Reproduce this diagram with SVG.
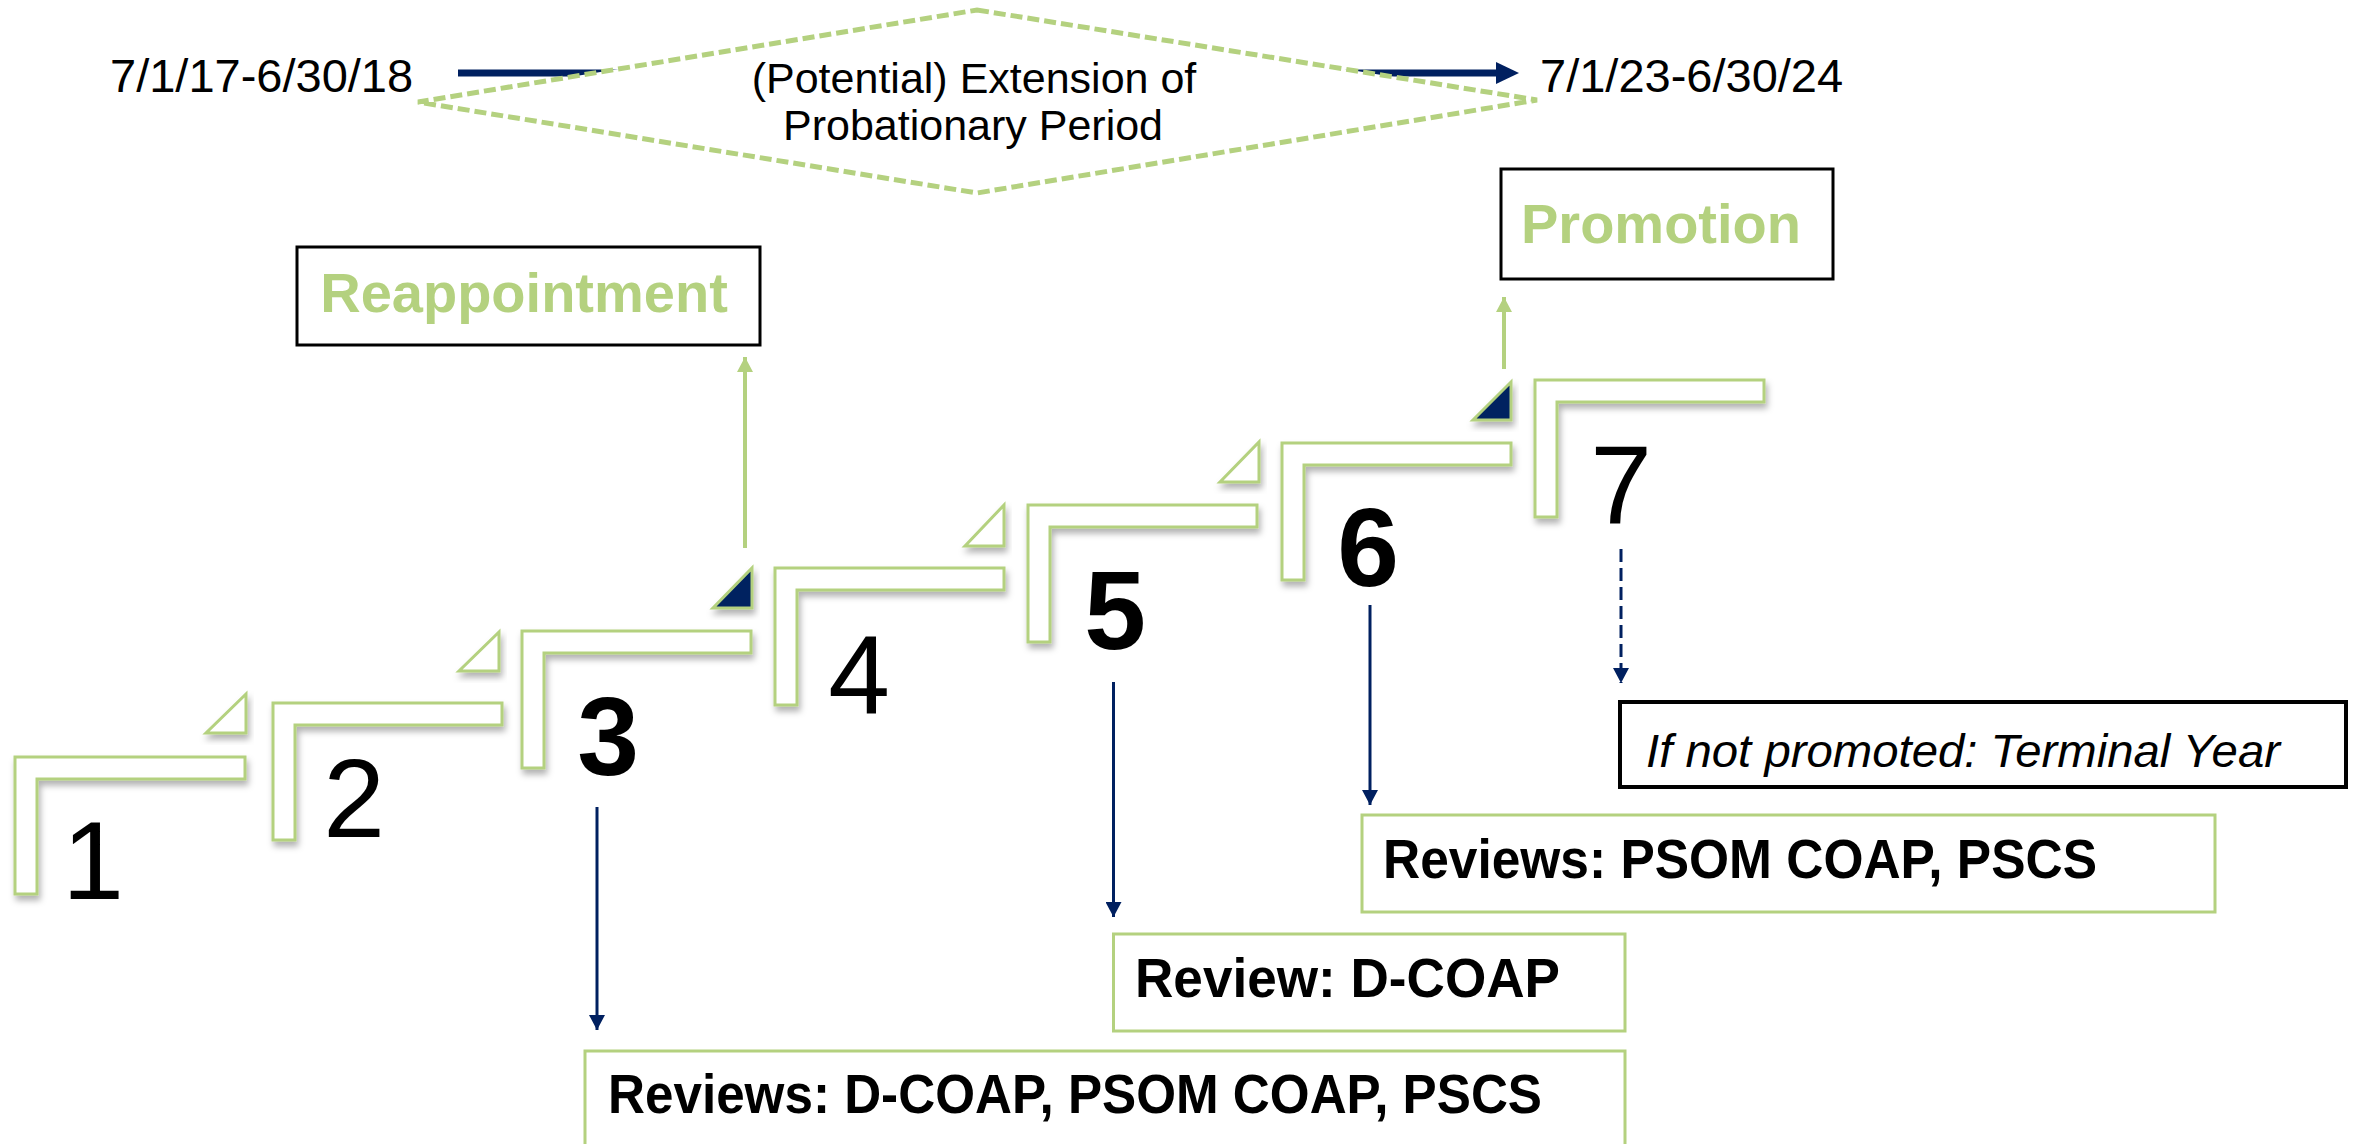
<svg xmlns="http://www.w3.org/2000/svg" width="2364" height="1144" viewBox="0 0 2364 1144">
<style>
  .step { fill: #ffffff; stroke: #B4D17F; stroke-width: 3; filter: url(#shadow); }
  .tri { fill: #ffffff; stroke: #B4D17F; stroke-width: 3; filter: url(#shadow); }
  .tri.navy { fill: #002060; }
  .digit { font-family: "Liberation Sans", Arial, sans-serif; font-size: 111px; fill: #000; text-anchor: middle; }
  .digit.b { font-weight: bold; }
  .date { font-family: "Liberation Sans", Arial, sans-serif; font-size: 47px; fill: #000; }
  .dia { font-family: "Liberation Sans", Arial, sans-serif; font-size: 43px; fill: #000; text-anchor: middle; }
  .title { font-family: "Liberation Sans", Arial, sans-serif; font-size: 56px; font-weight: bold; fill: #B4D17F; text-anchor: middle; }
  .blackbox { fill: #ffffff; stroke: #000; stroke-width: 3; }
  .greenbox { fill: #ffffff; stroke: #B4D17F; stroke-width: 3; }
  .rev { font-family: "Liberation Sans", Arial, sans-serif; font-size: 55px; font-weight: bold; fill: #000; }
  .navyline { fill: none; stroke: #002060; stroke-width: 3; marker-end: url(#navyHead); }
  .greenline { fill: none; stroke: #B4D17F; stroke-width: 4; marker-end: url(#greenHead); }
</style>
<defs>
  <filter id="shadow" x="-20%" y="-20%" width="140%" height="150%">
    <feDropShadow dx="2" dy="5" stdDeviation="3" flood-color="#000" flood-opacity="0.3"/>
  </filter>
  <marker id="navyHead" markerUnits="userSpaceOnUse" markerWidth="16" markerHeight="16" refX="15" refY="8" orient="auto">
    <path d="M0,0 L15,8 L0,16 Z" fill="#002060"/>
  </marker>
  <marker id="greenHead" markerUnits="userSpaceOnUse" markerWidth="16" markerHeight="16" refX="15" refY="8" orient="auto">
    <path d="M0,0 L15,8 L0,16 Z" fill="#B4D17F"/>
  </marker>
</defs>

<rect width="2364" height="1144" fill="#ffffff"/>

<g id="connectors">
  <g id="timeline-arrow">
    <line x1="458" y1="73" x2="1498" y2="73" stroke="#002060" stroke-width="7"/>
    <polygon points="1496,62 1519,73 1496,84" fill="#002060"/>
  </g>
  <path class="greenline" d="M745 548 V357"/>
  <path class="greenline" d="M1504 369 V297"/>
  <path class="navyline" d="M597 807 V1030"/>
  <path class="navyline" d="M1113.5 682 V917"/>
  <path class="navyline" d="M1370 605 V805"/>
  <path class="navyline" d="M1621 549 V683" stroke-width="4" stroke-dasharray="13 6"/>
</g>

<g id="date-start"><text class="date" x="110" y="92">7/1/17-6/30/18</text></g>
<g id="date-end"><text class="date" x="1540" y="92">7/1/23-6/30/24</text></g>

<g id="extension">
  <polygon points="977,10 1537,100 977,193 418,102" fill="#ffffff" stroke="#B4D17F" stroke-width="5" stroke-dasharray="12 5"/>
  <text class="dia" x="974" y="93">(Potential) Extension of</text>
  <text class="dia" x="973" y="140">Probationary Period</text>
</g>

<g id="step1">
  <path class="step" d="M15 757 H245 V779 H37 V894 H15 Z"/>
  <polygon class="tri" points="246,694 246,733 206,733"/>
  <text class="digit" x="93" y="899">1</text>
</g>
<g id="step2">
  <path class="step" d="M273 703 H502 V725 H295 V840 H273 Z"/>
  <polygon class="tri" points="499,632 499,671 459,671"/>
  <text class="digit" x="354" y="837">2</text>
</g>
<g id="step3">
  <path class="step" d="M522 631 H751 V653 H544 V768 H522 Z"/>
  <polygon class="tri navy" points="752,568 752,608 713,608"/>
  <text class="digit b" x="608" y="775">3</text>
</g>
<g id="step4">
  <path class="step" d="M775 568 H1004 V590 H797 V705 H775 Z"/>
  <polygon class="tri" points="1004,505 1004,546 965,546"/>
  <text class="digit" x="859" y="713">4</text>
</g>
<g id="step5">
  <path class="step" d="M1028 505 H1257 V527 H1050 V642 H1028 Z"/>
  <polygon class="tri" points="1259,442 1259,482 1220,482"/>
  <text class="digit b" x="1115" y="649">5</text>
</g>
<g id="step6">
  <path class="step" d="M1282 443 H1511 V465 H1304 V580 H1282 Z"/>
  <polygon class="tri navy" points="1511,382 1511,420 1473,420"/>
  <text class="digit b" x="1368" y="586">6</text>
</g>
<g id="step7">
  <path class="step" d="M1535 380 H1764 V402 H1557 V517 H1535 Z"/>
  <text class="digit" x="1621" y="523">7</text>
</g>

<g id="reappointment">
  <rect class="blackbox" x="297" y="247" width="463" height="98"/>
  <text class="title" x="524" y="312">Reappointment</text>
</g>
<g id="promotion">
  <rect class="blackbox" x="1501" y="169" width="332" height="110"/>
  <text class="title" x="1661" y="243">Promotion</text>
</g>

<g id="terminal">
  <rect x="1620" y="702" width="726" height="85" fill="#ffffff" stroke="#000" stroke-width="4"/>
  <text x="1646" y="767" font-family="'Liberation Sans', Arial, sans-serif" font-size="46" font-style="italic" fill="#000" textLength="634" lengthAdjust="spacingAndGlyphs">If not promoted: Terminal Year</text>
</g>

<g id="review-year6">
  <rect class="greenbox" x="1362" y="815" width="853" height="97"/>
  <text class="rev" x="1383" y="878" textLength="714" lengthAdjust="spacingAndGlyphs">Reviews: PSOM COAP, PSCS</text>
</g>
<g id="review-year5">
  <rect class="greenbox" x="1113.5" y="934" width="511.5" height="97"/>
  <text class="rev" x="1135" y="997" textLength="425" lengthAdjust="spacingAndGlyphs">Review: D-COAP</text>
</g>
<g id="review-year3">
  <rect class="greenbox" x="585" y="1051" width="1040" height="110"/>
  <text class="rev" x="608" y="1113" textLength="934" lengthAdjust="spacingAndGlyphs">Reviews: D-COAP, PSOM COAP, PSCS</text>
</g>
</svg>
